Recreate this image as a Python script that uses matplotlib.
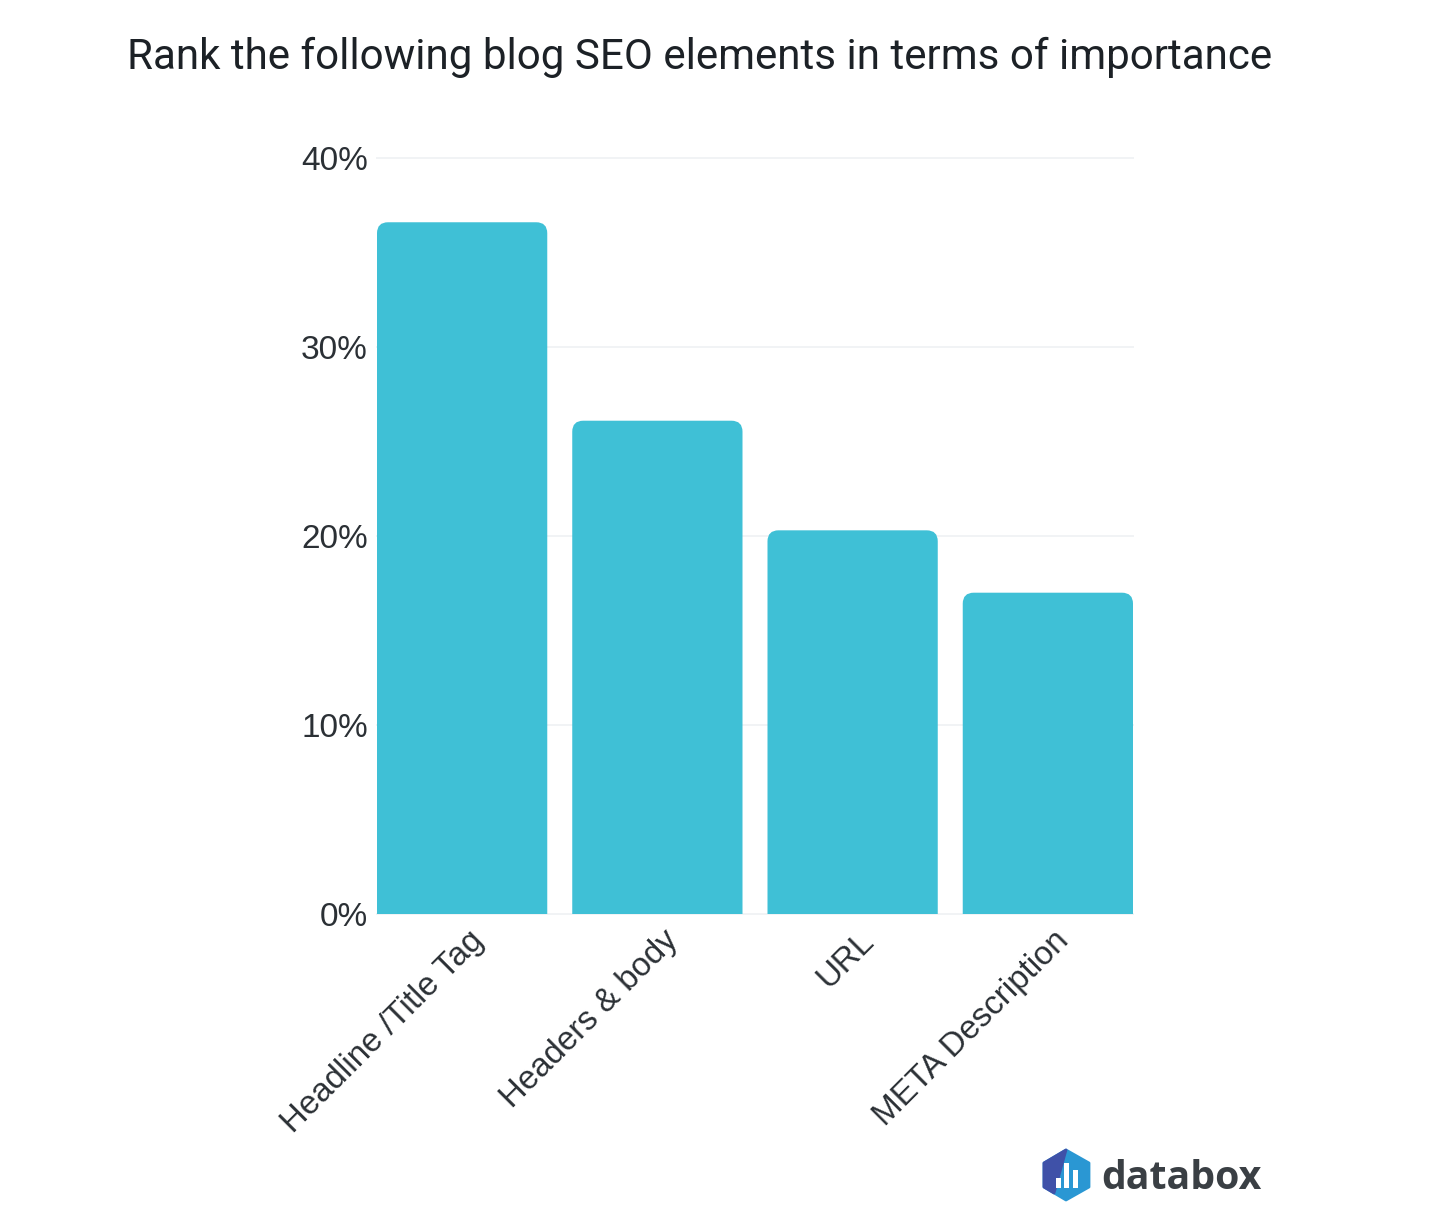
import matplotlib

matplotlib.use("Agg")
import matplotlib.pyplot as plt
from matplotlib.patches import PathPatch, Polygon, Rectangle
from matplotlib.path import Path

W, H = 1449, 1231

categories = ["Headline /Title Tag", "Headers & body", "URL", "META Description"]
values = [36.6, 26.1, 20.3, 17.0]
yticks = [0, 10, 20, 30, 40]

BAR_COLOR = "#3fc0d6"
GRID_COLOR = "#f1f3f5"
TEXT_COLOR = "#2b3035"


def rounded_top(x0, x1, top, rx, ry):
    # bar outline with only the two upper corners rounded
    verts = [
        (x0, 0), (x0, top - ry), (x0, top), (x0 + rx, top),
        (x1 - rx, top), (x1, top), (x1, top - ry), (x1, 0), (x0, 0),
    ]
    codes = [
        Path.MOVETO, Path.LINETO, Path.CURVE3, Path.CURVE3,
        Path.LINETO, Path.CURVE3, Path.CURVE3, Path.LINETO, Path.CLOSEPOLY,
    ]
    return Path(verts, codes)


fig = plt.figure(figsize=(W / 100, H / 100), dpi=100)
ax = fig.add_axes([377 / W, 1 - 914 / H, (1133 - 377) / W, (914 - 158) / H])

# Bars, rounded tops sized to about 11 px
bar_width = 0.872
ax.set_xlim(-bar_width / 2, len(categories) - 1 + bar_width / 2)
ax.set_ylim(0, 40)
rx = 11 * (ax.get_xlim()[1] - ax.get_xlim()[0]) / (1133 - 377)
ry = 11 * 40 / (914 - 158)
for i, v in enumerate(values):
    ax.add_patch(
        PathPatch(
            rounded_top(i - bar_width / 2, i + bar_width / 2, v, rx, ry),
            facecolor=BAR_COLOR,
            edgecolor="none",
            zorder=3,
        )
    )

ax.set_yticks(yticks)
ax.set_yticklabels(
    [f"{t}%" for t in yticks], fontsize=24, family="Liberation Sans", color=TEXT_COLOR
)
ax.tick_params(axis="y", length=0, pad=6.5)
ax.tick_params(axis="x", length=0, labelbottom=False)
ax.grid(True, axis="y", color=GRID_COLOR, lw=1.4, clip_on=False)
ax.set_axisbelow(True)
for spine in ax.spines.values():
    spine.set_visible(False)

# Rotated category labels, right end anchored below each bar
for i, name in enumerate(categories):
    ax.annotate(
        name,
        xy=(i, 0),
        xytext=(4, -8),
        textcoords="offset points",
        rotation=45,
        rotation_mode="anchor",
        ha="right",
        va="top",
        fontsize=23.8,
        family="Liberation Sans",
        color=TEXT_COLOR,
    )

fig.text(
    700 / W, 1 - 57 / H,
    "Rank the following blog SEO elements in terms of importance",
    ha="center", va="center", fontsize=30.3, family="Roboto", color="#1c2126",
)

# Logo drawn in pixel coordinates on a full-figure overlay
logo = fig.add_axes([0, 0, 1, 1])
logo.set_xlim(0, W)
logo.set_ylim(H, 0)
logo.axis("off")
logo.patch.set_alpha(0)
logo.add_patch(
    Polygon(
        [(1066, 1150), (1089, 1163), (1089, 1187), (1066, 1200), (1044, 1187), (1044, 1163)],
        facecolor="#2a97d3", edgecolor="#2a97d3", lw=2, joinstyle="round",
    )
)
logo.add_patch(
    Polygon(
        [(1066, 1150), (1044, 1163), (1044, 1187), (1054, 1193), (1066, 1150)],
        facecolor="#3f51a8", edgecolor="#3f51a8", lw=2, joinstyle="round",
    )
)
for x, top, h in [(1056, 1178, 10), (1064, 1163, 25), (1073, 1170, 18)]:
    logo.add_patch(Rectangle((x, top), 5, h, facecolor="white", edgecolor="none"))
logo.text(
    1101, 1174, "databox", ha="left", va="center_baseline", fontsize=28.3,
    family="Open Sans", fontweight="bold", color="#3a3f44",
)

fig.savefig("out.png", dpi=100)
